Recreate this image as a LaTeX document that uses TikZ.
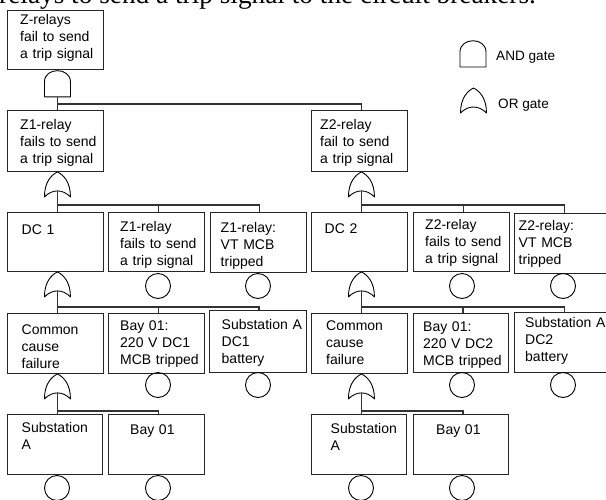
\documentclass[tikz,border=0pt]{standalone}
\usepackage{fontspec}
\setmainfont{Liberation Sans}
\newfontfamily\headfont{Liberation Serif}
\usetikzlibrary{calc}
\tikzset{
  box/.style={draw=black!85, line width=0.9pt, rectangle, inner sep=0pt,
    anchor=north west, minimum width=96pt, minimum height=59pt},
  txt/.style={anchor=base west, inner sep=0pt, text width=95pt, align=left,
    font=\fontsize{14}{17}\selectfont},
  wire/.style={draw=black!80, line width=1.7pt},
  gateline/.style={draw=black, line width=0.9pt, line join=round},
  basic/.style={draw=black, line width=0.9pt, circle, inner sep=0pt,
    minimum size=25pt},
  legendtxt/.style={anchor=base west, inner sep=0pt, font=\fontsize{13.6}{16}\selectfont},
  andgate/.pic={\draw[gateline] (-13,27) -- (-13,12)
      .. controls (-13,-3) and (13,-3) .. (13,12) -- (13,27) -- cycle;},
  orgate/.pic={\draw[gateline] (0,0) .. controls (-6,3) and (-13,10) .. (-13,25)
      .. controls (-5,17) and (5,17) .. (13,25)
      .. controls (13,10) and (6,3) .. (0,0) -- cycle;}
}
\begin{document}
\begin{tikzpicture}[x=1pt,y=-1pt]
\clip (0,0) rectangle (606,499);
\useasboundingbox (0,0) rectangle (606,499);

% running text above the tree
\node[anchor=base west, inner sep=0pt, font=\headfont\fontsize{27.3}{30}\selectfont]
  (head) at (-1,3) {relays to send a trip signal to the circuit breakers.};

% ---------- event boxes ----------
\node[box, minimum height=59pt] (top) at (7,10) {};
\node[txt] (top-t) at (20,24.5) {Z-relays\\fail to send\\a trip signal};

\node[box, minimum height=61pt] (z1) at (7,110) {};
\node[txt] (z1-t) at (20,129) {Z1-relay\\fails to send\\a trip signal};
\node[box, minimum height=61pt] (z2) at (311,110) {};
\node[txt] (z2-t) at (320,129) {Z2-relay\\fail to send\\a trip signal};

\node[box] (dc1) at (7,212) {};
\node[txt] (dc1-t) at (21.5,234.5) {DC 1};
\node[box] (z1f) at (108,212) {};
\node[txt] (z1f-t) at (120,231) {Z1-relay\\fails to send\\a trip signal};
\node[box, minimum height=60pt] (z1vt) at (210,212) {};
\node[txt] (z1vt-t) at (220.5,232.5) {Z1-relay:\\VT MCB\\tripped};

\node[box] (dc2) at (311,212) {};
\node[txt] (dc2-t) at (324.5,233) {DC 2};
\node[box] (z2f) at (413,212) {};
\node[txt] (z2f-t) at (425,229.5) {Z2-relay\\fails to send\\a trip signal};
\node[box, minimum height=60pt, minimum width=98pt] (z2vt) at (514,213) {};
\node[txt] (z2vt-t) at (518.5,230.5) {Z2-relay:\\VT MCB\\tripped};

\node[box, minimum height=60pt] (ccf1) at (7,313) {};
\node[txt] (ccf1-t) at (21.5,334.5) {Common\\cause\\failure};
\node[box, minimum height=60pt] (bay1) at (108,313) {};
\node[txt] (bay1-t) at (120,330) {Bay 01:\\220 V DC1\\MCB tripped};
\node[box, minimum height=62pt, minimum width=97pt] (sub1) at (209,310) {};
\node[txt] (sub1-t) at (221.5,329) {Substation A\\DC1\\battery};

\node[box, minimum height=60pt] (ccf2) at (311,313) {};
\node[txt] (ccf2-t) at (326,330.5) {Common\\cause\\failure};
\node[box, minimum height=59pt, minimum width=95pt] (bay2) at (413,313) {};
\node[txt] (bay2-t) at (423,331) {Bay 01:\\220 V DC2\\MCB tripped};
\node[box, minimum height=60pt, minimum width=98pt] (sub2) at (514,312) {};
\node[txt] (sub2-t) at (525,327.5) {Substation A\\DC2\\battery};

\node[box, minimum height=60pt, minimum width=95pt] (sa1) at (7,414) {};
\node[txt] (sa1-t) at (21.5,432) {Substation\\A};
\node[box, minimum height=60pt] (ba1) at (108,414) {};
\node[txt] (ba1-t) at (130,434.5) {Bay 01};
\node[box, minimum height=60pt, minimum width=95pt] (sa2) at (311,414) {};
\node[txt] (sa2-t) at (330.5,433) {Substation\\A};
\node[box, minimum height=60pt, minimum width=95pt] (ba2) at (413,414) {};
\node[txt] (ba2-t) at (436,434.5) {Bay 01};

% ---------- gates ----------
\coordinate (gA) at ([xshift=2pt]top.south);
\coordinate (gB) at ([xshift=2pt]z1.south);
\coordinate (gC) at ([xshift=2pt]z2.south);
\coordinate (gD) at ([xshift=2pt]dc1.south);
\coordinate (gE) at ([xshift=2pt]dc2.south);
\coordinate (gF) at ([xshift=2pt]ccf1.south);
\coordinate (gG) at ([xshift=2pt]ccf2.south);

\pic at (gA) {andgate};
\foreach \g in {gB,gC,gD,gE,gF,gG} { \pic at (\g) {orgate}; }

% ---------- connectors ----------
% AND gate: both relay branches
\coordinate (gAo) at ($(gA)+(0,27)$);
\coordinate (busA) at ($(gA)+(0,34)$);
\draw[wire] (gAo) -- (gAo |- z1.north);
\draw[wire] (busA) -| ([xshift=2pt]z2.north);

% OR gates: stem and bus to each input
\foreach \g/\d/\bus/\a/\b in {gB/dc1/33/z1f/z1vt, gC/dc2/33/z2f/z2vt,
                             gD/ccf1/35/bay1/sub1, gE/ccf2/35/bay2/sub2} {
  \coordinate (\g o) at ($(\g)+(0,19)$);
  \coordinate (\g b) at ($(\g)+(0,\bus)$);
  \draw[wire] (\g o) -- (\g o |- \d.north);
  \draw[wire] (\g b) -| ([xshift=2pt]\a.north);
  \draw[wire] (\g b) -| ([xshift=1pt]\b.north);
}
\foreach \g/\d/\a in {gF/sa1/ba1, gG/sa2/ba2} {
  \coordinate (\g o) at ($(\g)+(0,19)$);
  \coordinate (\g b) at ($(\g)+(0,37)$);
  \draw[wire] (\g o) -- (\g o |- \d.north);
  \draw[wire] (\g b) -| ([xshift=2pt]\a.north);
}

% ---------- basic events ----------
\foreach \n/\x/\y in {e1/158/286, e2/258/286, e3/462/286, e4/563/286,
                      e5/158/385, e6/258/385, e7/462/385, e8/563/385,
                      e9/57/488, e10/158/488, e11/361/488, e12/462/488} {
  \node[basic] (\n) at (\x,\y) {};
}

% ---------- legend ----------
\pic at (473,40) {andgate};
\node[legendtxt] (and-l) at (496,60) {AND gate};
\pic at (473.5,88) {orgate};
\node[legendtxt] (or-l) at (498,108) {OR gate};
\end{tikzpicture}
\end{document}
